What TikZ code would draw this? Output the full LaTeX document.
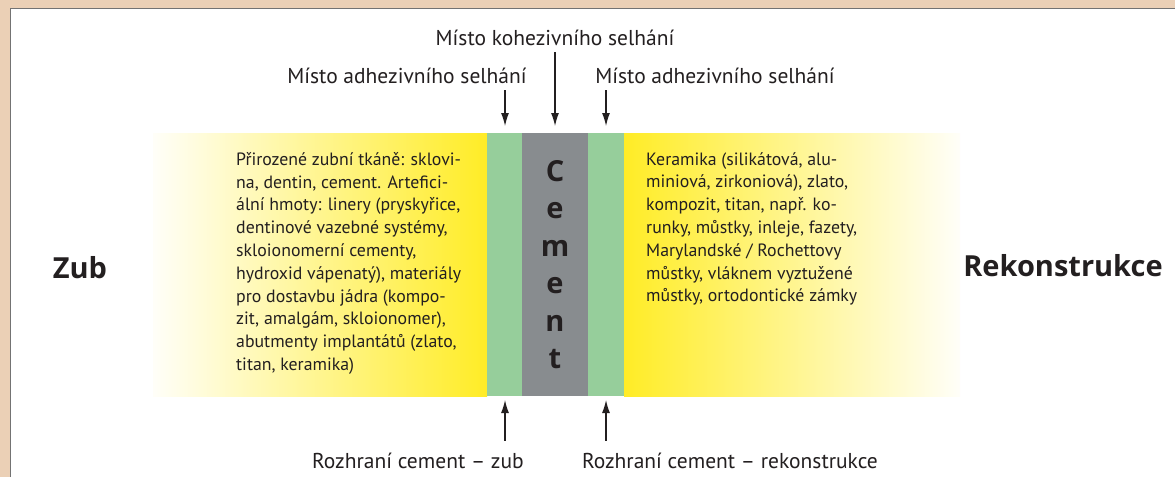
\documentclass[tikz,border=0pt]{standalone}
\usepackage{fontspec}
\setmainfont{PT Sans}
\newfontfamily\tucny{Open Sans}
\usetikzlibrary{calc, positioning, arrows.meta}
\definecolor{ramec}{RGB}{235,208,182}
\definecolor{zluta}{RGB}{255,236,38}
\definecolor{zelena}{RGB}{150,206,155}
\definecolor{seda}{RGB}{136,140,143}
\definecolor{cerna}{RGB}{35,31,32}
\newcommand\pruh[4]{\node[fill=#4, minimum width=#3pt, minimum height=263pt, inner sep=0pt, outer sep=0pt] (#1) at (#2,264.5) {};}
\newcommand\popis[4]{\node[font=\fontsize{21.5}{24}\selectfont, text=cerna, inner sep=0pt] (#1) at (#2,#3) {#4};}
\tikzset{sipka/.style={-{Latex[length=13pt,width=8pt]}, line width=1.2pt, draw=cerna},
  telo/.style={font=\fontsize{17.8}{22.8}\selectfont, text=cerna, align=left, inner sep=0pt, anchor=north west},
  strana/.style={font=\tucny\fontsize{29}{32}\selectfont\bfseries, text=cerna, inner sep=0pt}}

\begin{document}
\begin{tikzpicture}[x=1pt,y=-1pt]
	\useasboundingbox (0,0) rectangle (1175,477);
	\fill[ramec] (0,0) rectangle (1175,477);
	\fill[white] (10,8) rectangle (1175,477);
	\draw[black!55, line width=1.5pt] (10.5,477) -- (10.5,8.5) -- (1175,8.5);
	% pasy
	\shade[left color=zluta!3!white, middle color=zluta!55!white, right color=zluta] (153,133) rectangle (487,396);
	\shade[left color=zluta, middle color=zluta!55!white, right color=zluta!3!white] (624,133) rectangle (960,396);
	\pruh{adhL}{505}{36}{zelena}
	\pruh{cem}{555}{66}{seda}
	\pruh{adhR}{606}{36}{zelena}
	\node[font=\tucny\fontsize{29}{37.5}\selectfont\bfseries, text=cerna, align=center, inner sep=0pt] (cemText) at (cem.center) {C\\e\\m\\e\\n\\t};
	% texty v pasech
	\node[telo] (zubText) at (236,152) {Přirozené zubní tkáně: sklovi-\\na, dentin, cement. Artefici-\\ální hmoty: linery (pryskyřice,\\dentinové vazebné systémy,\\skloionomerní cementy,\\hydroxid vápenatý), materiály\\pro dostavbu jádra (kompo-\\zit, amalgám, skloionomer),\\abutmenty implantátů (zlato,\\titan, keramika)};
	\node[telo] (rekText) at (646,152) {Keramika (silikátová, alu-\\miniová, zirkoniová), zlato,\\kompozit, titan, např. ko-\\runky, můstky, inleje, fazety,\\Marylandské / Rochettovy\\můstky, vláknem vyztužené\\můstky, ortodontické zámky};
	\node[strana] (zub) at (80,268) {Zub};
	\node[strana] (rek) at (1063,266) {Rekonstrukce};
	% popisky
	\popis{kohez}{555}{38}{Místo kohezivního selhání}
	\popis{adhezL}{407}{76}{Místo adhezivního selhání}
	\popis{adhezR}{715}{76}{Místo adhezivního selhání}
	\popis{rozhrZ}{418}{461}{Rozhraní cement – zub}
	\popis{rozhrR}{730}{461}{Rozhraní cement – rekonstrukce}
	\draw[sipka, shorten <=6pt, shorten >=7pt] (adhL.north |- adhezL.south) -- (adhL.north);
	\draw[sipka, shorten <=6pt, shorten >=7pt] (cem.north |- kohez.south) -- (cem.north);
	\draw[sipka, shorten <=6pt, shorten >=7pt] (adhR.north |- adhezR.south) -- (adhR.north);
	\draw[sipka, shorten <=12pt, shorten >=4pt] (adhL.south |- rozhrZ.north) -- (adhL.south);
	\draw[sipka, shorten <=12pt, shorten >=4pt] (adhR.south |- rozhrR.north) -- (adhR.south);
\end{tikzpicture}
\end{document}
